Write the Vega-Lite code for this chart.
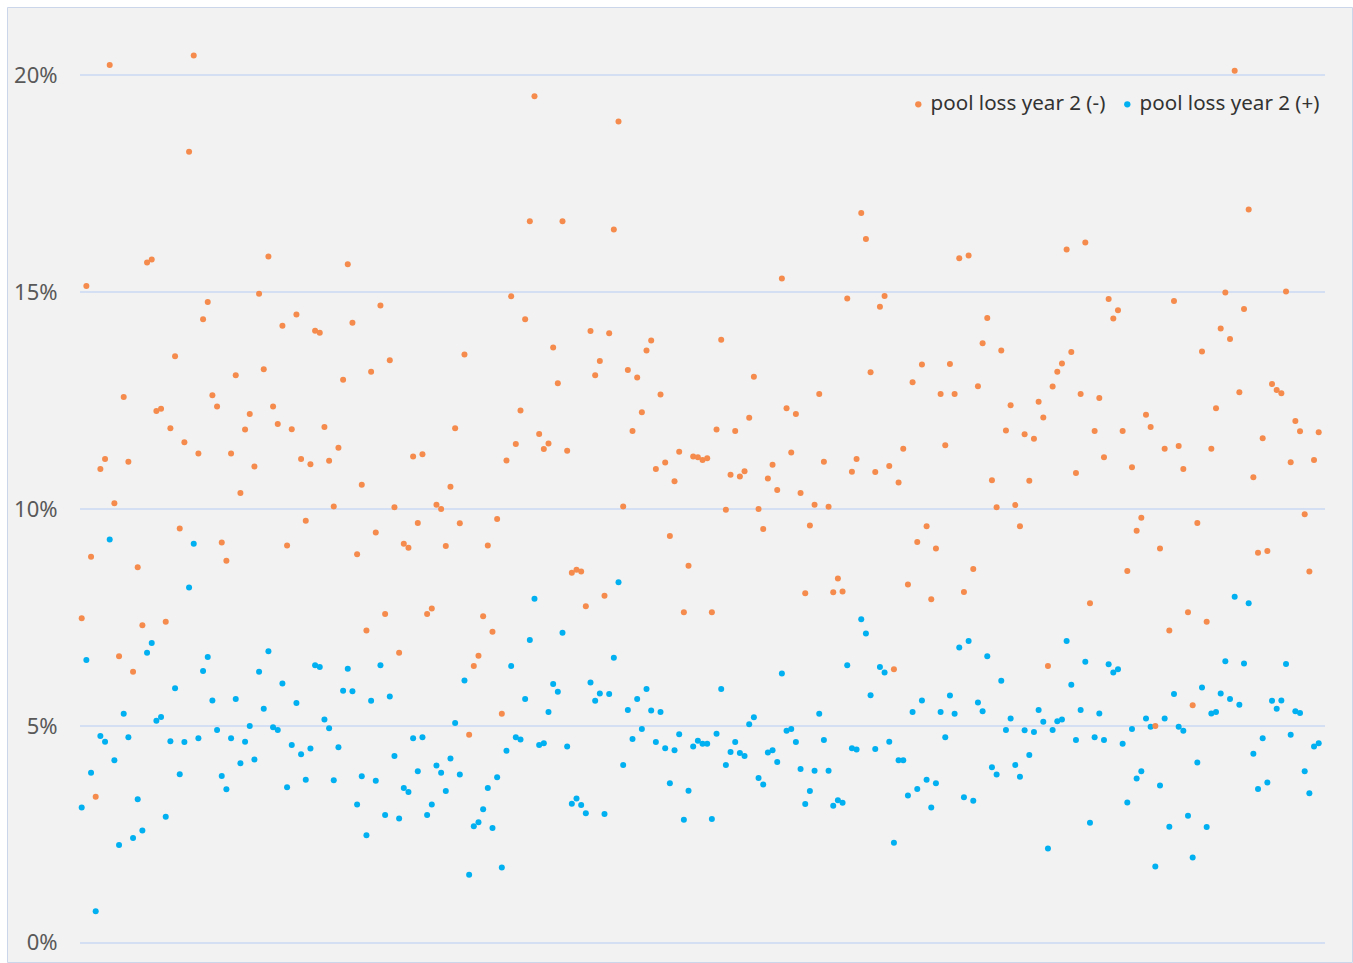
{
  "$schema": "https://vega.github.io/schema/vega-lite/v6.json",
  "width": 1345,
  "height": 955,
  "autosize": {"type": "none"},
  "padding": {"left": 7, "top": 7, "right": 1, "bottom": 1},
  "background": "#FFFFFF",
  "config": {"view": {"fill": "#F2F2F2", "stroke": "#CCD6EB", "strokeWidth": 1}, "font": "Noto Sans"},
  "datasets": {
    "grid": [{"g": 0}, {"g": 0.05}, {"g": 0.1}, {"g": 0.15}, {"g": 0.2}],
    "pts": [
{"i":1,"pool loss year 2 (-)":0.0748,"pool loss year 2 (+)":0.0312},
{"i":2,"pool loss year 2 (-)":0.1514,"pool loss year 2 (+)":0.0652},
{"i":3,"pool loss year 2 (-)":0.0890,"pool loss year 2 (+)":0.0392},
{"i":4,"pool loss year 2 (-)":0.0337,"pool loss year 2 (+)":0.0073},
{"i":5,"pool loss year 2 (-)":0.1092,"pool loss year 2 (+)":0.0477},
{"i":6,"pool loss year 2 (-)":0.1115,"pool loss year 2 (+)":0.0464},
{"i":7,"pool loss year 2 (-)":0.2023,"pool loss year 2 (+)":0.0930},
{"i":8,"pool loss year 2 (-)":0.1013,"pool loss year 2 (+)":0.0421},
{"i":9,"pool loss year 2 (-)":0.0661,"pool loss year 2 (+)":0.0226},
{"i":10,"pool loss year 2 (-)":0.1258,"pool loss year 2 (+)":0.0528},
{"i":11,"pool loss year 2 (-)":0.1109,"pool loss year 2 (+)":0.0474},
{"i":12,"pool loss year 2 (-)":0.0625,"pool loss year 2 (+)":0.0242},
{"i":13,"pool loss year 2 (-)":0.0866,"pool loss year 2 (+)":0.0331},
{"i":14,"pool loss year 2 (-)":0.0732,"pool loss year 2 (+)":0.0259},
{"i":15,"pool loss year 2 (-)":0.1568,"pool loss year 2 (+)":0.0669},
{"i":16,"pool loss year 2 (-)":0.1575,"pool loss year 2 (+)":0.0691},
{"i":17,"pool loss year 2 (-)":0.1226,"pool loss year 2 (+)":0.0512},
{"i":18,"pool loss year 2 (-)":0.1231,"pool loss year 2 (+)":0.0521},
{"i":19,"pool loss year 2 (-)":0.0740,"pool loss year 2 (+)":0.0291},
{"i":20,"pool loss year 2 (-)":0.1186,"pool loss year 2 (+)":0.0465},
{"i":21,"pool loss year 2 (-)":0.1352,"pool loss year 2 (+)":0.0587},
{"i":22,"pool loss year 2 (-)":0.0955,"pool loss year 2 (+)":0.0389},
{"i":23,"pool loss year 2 (-)":0.1154,"pool loss year 2 (+)":0.0463},
{"i":24,"pool loss year 2 (-)":0.1823,"pool loss year 2 (+)":0.0819},
{"i":25,"pool loss year 2 (-)":0.2045,"pool loss year 2 (+)":0.0920},
{"i":26,"pool loss year 2 (-)":0.1128,"pool loss year 2 (+)":0.0472},
{"i":27,"pool loss year 2 (-)":0.1437,"pool loss year 2 (+)":0.0627},
{"i":28,"pool loss year 2 (-)":0.1477,"pool loss year 2 (+)":0.0659},
{"i":29,"pool loss year 2 (-)":0.1262,"pool loss year 2 (+)":0.0559},
{"i":30,"pool loss year 2 (-)":0.1236,"pool loss year 2 (+)":0.0491},
{"i":31,"pool loss year 2 (-)":0.0923,"pool loss year 2 (+)":0.0385},
{"i":32,"pool loss year 2 (-)":0.0881,"pool loss year 2 (+)":0.0354},
{"i":33,"pool loss year 2 (-)":0.1128,"pool loss year 2 (+)":0.0472},
{"i":34,"pool loss year 2 (-)":0.1308,"pool loss year 2 (+)":0.0562},
{"i":35,"pool loss year 2 (-)":0.1037,"pool loss year 2 (+)":0.0414},
{"i":36,"pool loss year 2 (-)":0.1183,"pool loss year 2 (+)":0.0464},
{"i":37,"pool loss year 2 (-)":0.1219,"pool loss year 2 (+)":0.0500},
{"i":38,"pool loss year 2 (-)":0.1098,"pool loss year 2 (+)":0.0423},
{"i":39,"pool loss year 2 (-)":0.1496,"pool loss year 2 (+)":0.0625},
{"i":40,"pool loss year 2 (-)":0.1322,"pool loss year 2 (+)":0.0540},
{"i":41,"pool loss year 2 (-)":0.1582,"pool loss year 2 (+)":0.0672},
{"i":42,"pool loss year 2 (-)":0.1236,"pool loss year 2 (+)":0.0497},
{"i":43,"pool loss year 2 (-)":0.1196,"pool loss year 2 (+)":0.0491},
{"i":44,"pool loss year 2 (-)":0.1422,"pool loss year 2 (+)":0.0598},
{"i":45,"pool loss year 2 (-)":0.0916,"pool loss year 2 (+)":0.0359},
{"i":46,"pool loss year 2 (-)":0.1184,"pool loss year 2 (+)":0.0456},
{"i":47,"pool loss year 2 (-)":0.1448,"pool loss year 2 (+)":0.0553},
{"i":48,"pool loss year 2 (-)":0.1115,"pool loss year 2 (+)":0.0435},
{"i":49,"pool loss year 2 (-)":0.0973,"pool loss year 2 (+)":0.0376},
{"i":50,"pool loss year 2 (-)":0.1103,"pool loss year 2 (+)":0.0448},
{"i":51,"pool loss year 2 (-)":0.1411,"pool loss year 2 (+)":0.0640},
{"i":52,"pool loss year 2 (-)":0.1406,"pool loss year 2 (+)":0.0636},
{"i":53,"pool loss year 2 (-)":0.1189,"pool loss year 2 (+)":0.0515},
{"i":54,"pool loss year 2 (-)":0.1111,"pool loss year 2 (+)":0.0495},
{"i":55,"pool loss year 2 (-)":0.1006,"pool loss year 2 (+)":0.0375},
{"i":56,"pool loss year 2 (-)":0.1141,"pool loss year 2 (+)":0.0451},
{"i":57,"pool loss year 2 (-)":0.1298,"pool loss year 2 (+)":0.0581},
{"i":58,"pool loss year 2 (-)":0.1564,"pool loss year 2 (+)":0.0632},
{"i":59,"pool loss year 2 (-)":0.1429,"pool loss year 2 (+)":0.0580},
{"i":60,"pool loss year 2 (-)":0.0896,"pool loss year 2 (+)":0.0319},
{"i":61,"pool loss year 2 (-)":0.1056,"pool loss year 2 (+)":0.0384},
{"i":62,"pool loss year 2 (-)":0.0720,"pool loss year 2 (+)":0.0248},
{"i":63,"pool loss year 2 (-)":0.1316,"pool loss year 2 (+)":0.0558},
{"i":64,"pool loss year 2 (-)":0.0946,"pool loss year 2 (+)":0.0374},
{"i":65,"pool loss year 2 (-)":0.1469,"pool loss year 2 (+)":0.0640},
{"i":66,"pool loss year 2 (-)":0.0758,"pool loss year 2 (+)":0.0295},
{"i":67,"pool loss year 2 (-)":0.1343,"pool loss year 2 (+)":0.0568},
{"i":68,"pool loss year 2 (-)":0.1004,"pool loss year 2 (+)":0.0431},
{"i":69,"pool loss year 2 (-)":0.0669,"pool loss year 2 (+)":0.0287},
{"i":70,"pool loss year 2 (-)":0.0920,"pool loss year 2 (+)":0.0357},
{"i":71,"pool loss year 2 (-)":0.0911,"pool loss year 2 (+)":0.0348},
{"i":72,"pool loss year 2 (-)":0.1121,"pool loss year 2 (+)":0.0472},
{"i":73,"pool loss year 2 (-)":0.0968,"pool loss year 2 (+)":0.0396},
{"i":74,"pool loss year 2 (-)":0.1126,"pool loss year 2 (+)":0.0474},
{"i":75,"pool loss year 2 (-)":0.0758,"pool loss year 2 (+)":0.0295},
{"i":76,"pool loss year 2 (-)":0.0771,"pool loss year 2 (+)":0.0319},
{"i":77,"pool loss year 2 (-)":0.1010,"pool loss year 2 (+)":0.0409},
{"i":78,"pool loss year 2 (-)":0.1000,"pool loss year 2 (+)":0.0392},
{"i":79,"pool loss year 2 (-)":0.0915,"pool loss year 2 (+)":0.0350},
{"i":80,"pool loss year 2 (-)":0.1051,"pool loss year 2 (+)":0.0425},
{"i":81,"pool loss year 2 (-)":0.1186,"pool loss year 2 (+)":0.0507},
{"i":82,"pool loss year 2 (-)":0.0967,"pool loss year 2 (+)":0.0388},
{"i":83,"pool loss year 2 (-)":0.1356,"pool loss year 2 (+)":0.0605},
{"i":84,"pool loss year 2 (-)":0.0480,"pool loss year 2 (+)":0.0157},
{"i":85,"pool loss year 2 (-)":0.0638,"pool loss year 2 (+)":0.0269},
{"i":86,"pool loss year 2 (-)":0.0662,"pool loss year 2 (+)":0.0278},
{"i":87,"pool loss year 2 (-)":0.0753,"pool loss year 2 (+)":0.0308},
{"i":88,"pool loss year 2 (-)":0.0916,"pool loss year 2 (+)":0.0357},
{"i":89,"pool loss year 2 (-)":0.0717,"pool loss year 2 (+)":0.0265},
{"i":90,"pool loss year 2 (-)":0.0977,"pool loss year 2 (+)":0.0382},
{"i":91,"pool loss year 2 (-)":0.0528,"pool loss year 2 (+)":0.0174},
{"i":92,"pool loss year 2 (-)":0.1112,"pool loss year 2 (+)":0.0443},
{"i":93,"pool loss year 2 (-)":0.1490,"pool loss year 2 (+)":0.0638},
{"i":94,"pool loss year 2 (-)":0.1150,"pool loss year 2 (+)":0.0474},
{"i":95,"pool loss year 2 (-)":0.1227,"pool loss year 2 (+)":0.0469},
{"i":96,"pool loss year 2 (-)":0.1437,"pool loss year 2 (+)":0.0562},
{"i":97,"pool loss year 2 (-)":0.1663,"pool loss year 2 (+)":0.0698},
{"i":98,"pool loss year 2 (-)":0.1951,"pool loss year 2 (+)":0.0793},
{"i":99,"pool loss year 2 (-)":0.1173,"pool loss year 2 (+)":0.0456},
{"i":100,"pool loss year 2 (-)":0.1138,"pool loss year 2 (+)":0.0460},
{"i":101,"pool loss year 2 (-)":0.1151,"pool loss year 2 (+)":0.0532},
{"i":102,"pool loss year 2 (-)":0.1372,"pool loss year 2 (+)":0.0597},
{"i":103,"pool loss year 2 (-)":0.1290,"pool loss year 2 (+)":0.0579},
{"i":104,"pool loss year 2 (-)":0.1663,"pool loss year 2 (+)":0.0715},
{"i":105,"pool loss year 2 (-)":0.1134,"pool loss year 2 (+)":0.0453},
{"i":106,"pool loss year 2 (-)":0.0853,"pool loss year 2 (+)":0.0321},
{"i":107,"pool loss year 2 (-)":0.0860,"pool loss year 2 (+)":0.0333},
{"i":108,"pool loss year 2 (-)":0.0856,"pool loss year 2 (+)":0.0318},
{"i":109,"pool loss year 2 (-)":0.0776,"pool loss year 2 (+)":0.0299},
{"i":110,"pool loss year 2 (-)":0.1410,"pool loss year 2 (+)":0.0600},
{"i":111,"pool loss year 2 (-)":0.1308,"pool loss year 2 (+)":0.0558},
{"i":112,"pool loss year 2 (-)":0.1341,"pool loss year 2 (+)":0.0575},
{"i":113,"pool loss year 2 (-)":0.0800,"pool loss year 2 (+)":0.0297},
{"i":114,"pool loss year 2 (-)":0.1405,"pool loss year 2 (+)":0.0574},
{"i":115,"pool loss year 2 (-)":0.1644,"pool loss year 2 (+)":0.0657},
{"i":116,"pool loss year 2 (-)":0.1893,"pool loss year 2 (+)":0.0831},
{"i":117,"pool loss year 2 (-)":0.1006,"pool loss year 2 (+)":0.0410},
{"i":118,"pool loss year 2 (-)":0.1320,"pool loss year 2 (+)":0.0537},
{"i":119,"pool loss year 2 (-)":0.1180,"pool loss year 2 (+)":0.0470},
{"i":120,"pool loss year 2 (-)":0.1303,"pool loss year 2 (+)":0.0562},
{"i":121,"pool loss year 2 (-)":0.1223,"pool loss year 2 (+)":0.0493},
{"i":122,"pool loss year 2 (-)":0.1365,"pool loss year 2 (+)":0.0585},
{"i":123,"pool loss year 2 (-)":0.1388,"pool loss year 2 (+)":0.0536},
{"i":124,"pool loss year 2 (-)":0.1092,"pool loss year 2 (+)":0.0463},
{"i":125,"pool loss year 2 (-)":0.1264,"pool loss year 2 (+)":0.0532},
{"i":126,"pool loss year 2 (-)":0.1107,"pool loss year 2 (+)":0.0449},
{"i":127,"pool loss year 2 (-)":0.0938,"pool loss year 2 (+)":0.0368},
{"i":128,"pool loss year 2 (-)":0.1064,"pool loss year 2 (+)":0.0444},
{"i":129,"pool loss year 2 (-)":0.1132,"pool loss year 2 (+)":0.0481},
{"i":130,"pool loss year 2 (-)":0.0762,"pool loss year 2 (+)":0.0284},
{"i":131,"pool loss year 2 (-)":0.0869,"pool loss year 2 (+)":0.0351},
{"i":132,"pool loss year 2 (-)":0.1121,"pool loss year 2 (+)":0.0453},
{"i":133,"pool loss year 2 (-)":0.1119,"pool loss year 2 (+)":0.0466},
{"i":134,"pool loss year 2 (-)":0.1113,"pool loss year 2 (+)":0.0459},
{"i":135,"pool loss year 2 (-)":0.1117,"pool loss year 2 (+)":0.0459},
{"i":136,"pool loss year 2 (-)":0.0762,"pool loss year 2 (+)":0.0286},
{"i":137,"pool loss year 2 (-)":0.1183,"pool loss year 2 (+)":0.0482},
{"i":138,"pool loss year 2 (-)":0.1390,"pool loss year 2 (+)":0.0585},
{"i":139,"pool loss year 2 (-)":0.0998,"pool loss year 2 (+)":0.0410},
{"i":140,"pool loss year 2 (-)":0.1079,"pool loss year 2 (+)":0.0440},
{"i":141,"pool loss year 2 (-)":0.1180,"pool loss year 2 (+)":0.0463},
{"i":142,"pool loss year 2 (-)":0.1075,"pool loss year 2 (+)":0.0438},
{"i":143,"pool loss year 2 (-)":0.1087,"pool loss year 2 (+)":0.0431},
{"i":144,"pool loss year 2 (-)":0.1210,"pool loss year 2 (+)":0.0504},
{"i":145,"pool loss year 2 (-)":0.1305,"pool loss year 2 (+)":0.0520},
{"i":146,"pool loss year 2 (-)":0.1000,"pool loss year 2 (+)":0.0380},
{"i":147,"pool loss year 2 (-)":0.0954,"pool loss year 2 (+)":0.0365},
{"i":148,"pool loss year 2 (-)":0.1070,"pool loss year 2 (+)":0.0439},
{"i":149,"pool loss year 2 (-)":0.1102,"pool loss year 2 (+)":0.0444},
{"i":150,"pool loss year 2 (-)":0.1044,"pool loss year 2 (+)":0.0417},
{"i":151,"pool loss year 2 (-)":0.1531,"pool loss year 2 (+)":0.0621},
{"i":152,"pool loss year 2 (-)":0.1232,"pool loss year 2 (+)":0.0489},
{"i":153,"pool loss year 2 (-)":0.1130,"pool loss year 2 (+)":0.0493},
{"i":154,"pool loss year 2 (-)":0.1219,"pool loss year 2 (+)":0.0463},
{"i":155,"pool loss year 2 (-)":0.1037,"pool loss year 2 (+)":0.0401},
{"i":156,"pool loss year 2 (-)":0.0806,"pool loss year 2 (+)":0.0320},
{"i":157,"pool loss year 2 (-)":0.0962,"pool loss year 2 (+)":0.0350},
{"i":158,"pool loss year 2 (-)":0.1010,"pool loss year 2 (+)":0.0397},
{"i":159,"pool loss year 2 (-)":0.1265,"pool loss year 2 (+)":0.0528},
{"i":160,"pool loss year 2 (-)":0.1109,"pool loss year 2 (+)":0.0468},
{"i":161,"pool loss year 2 (-)":0.1005,"pool loss year 2 (+)":0.0397},
{"i":162,"pool loss year 2 (-)":0.0808,"pool loss year 2 (+)":0.0316},
{"i":163,"pool loss year 2 (-)":0.0840,"pool loss year 2 (+)":0.0329},
{"i":164,"pool loss year 2 (-)":0.0810,"pool loss year 2 (+)":0.0323},
{"i":165,"pool loss year 2 (-)":0.1485,"pool loss year 2 (+)":0.0640},
{"i":166,"pool loss year 2 (-)":0.1086,"pool loss year 2 (+)":0.0449},
{"i":167,"pool loss year 2 (-)":0.1115,"pool loss year 2 (+)":0.0446},
{"i":168,"pool loss year 2 (-)":0.1682,"pool loss year 2 (+)":0.0746},
{"i":169,"pool loss year 2 (-)":0.1622,"pool loss year 2 (+)":0.0713},
{"i":170,"pool loss year 2 (-)":0.1315,"pool loss year 2 (+)":0.0571},
{"i":171,"pool loss year 2 (-)":0.1085,"pool loss year 2 (+)":0.0447},
{"i":172,"pool loss year 2 (-)":0.1466,"pool loss year 2 (+)":0.0636},
{"i":173,"pool loss year 2 (-)":0.1491,"pool loss year 2 (+)":0.0623},
{"i":174,"pool loss year 2 (-)":0.1099,"pool loss year 2 (+)":0.0464},
{"i":175,"pool loss year 2 (-)":0.0631,"pool loss year 2 (+)":0.0231},
{"i":176,"pool loss year 2 (-)":0.1061,"pool loss year 2 (+)":0.0421},
{"i":177,"pool loss year 2 (-)":0.1139,"pool loss year 2 (+)":0.0421},
{"i":178,"pool loss year 2 (-)":0.0826,"pool loss year 2 (+)":0.0340},
{"i":179,"pool loss year 2 (-)":0.1292,"pool loss year 2 (+)":0.0532},
{"i":180,"pool loss year 2 (-)":0.0924,"pool loss year 2 (+)":0.0355},
{"i":181,"pool loss year 2 (-)":0.1333,"pool loss year 2 (+)":0.0559},
{"i":182,"pool loss year 2 (-)":0.0960,"pool loss year 2 (+)":0.0376},
{"i":183,"pool loss year 2 (-)":0.0792,"pool loss year 2 (+)":0.0312},
{"i":184,"pool loss year 2 (-)":0.0909,"pool loss year 2 (+)":0.0368},
{"i":185,"pool loss year 2 (-)":0.1265,"pool loss year 2 (+)":0.0532},
{"i":186,"pool loss year 2 (-)":0.1147,"pool loss year 2 (+)":0.0474},
{"i":187,"pool loss year 2 (-)":0.1334,"pool loss year 2 (+)":0.0570},
{"i":188,"pool loss year 2 (-)":0.1265,"pool loss year 2 (+)":0.0528},
{"i":189,"pool loss year 2 (-)":0.1578,"pool loss year 2 (+)":0.0681},
{"i":190,"pool loss year 2 (-)":0.0809,"pool loss year 2 (+)":0.0336},
{"i":191,"pool loss year 2 (-)":0.1584,"pool loss year 2 (+)":0.0696},
{"i":192,"pool loss year 2 (-)":0.0862,"pool loss year 2 (+)":0.0328},
{"i":193,"pool loss year 2 (-)":0.1283,"pool loss year 2 (+)":0.0554},
{"i":194,"pool loss year 2 (-)":0.1382,"pool loss year 2 (+)":0.0534},
{"i":195,"pool loss year 2 (-)":0.1440,"pool loss year 2 (+)":0.0661},
{"i":196,"pool loss year 2 (-)":0.1066,"pool loss year 2 (+)":0.0405},
{"i":197,"pool loss year 2 (-)":0.1004,"pool loss year 2 (+)":0.0388},
{"i":198,"pool loss year 2 (-)":0.1365,"pool loss year 2 (+)":0.0604},
{"i":199,"pool loss year 2 (-)":0.1181,"pool loss year 2 (+)":0.0491},
{"i":200,"pool loss year 2 (-)":0.1239,"pool loss year 2 (+)":0.0517},
{"i":201,"pool loss year 2 (-)":0.1009,"pool loss year 2 (+)":0.0410},
{"i":202,"pool loss year 2 (-)":0.0960,"pool loss year 2 (+)":0.0383},
{"i":203,"pool loss year 2 (-)":0.1172,"pool loss year 2 (+)":0.0490},
{"i":204,"pool loss year 2 (-)":0.1065,"pool loss year 2 (+)":0.0433},
{"i":205,"pool loss year 2 (-)":0.1162,"pool loss year 2 (+)":0.0486},
{"i":206,"pool loss year 2 (-)":0.1247,"pool loss year 2 (+)":0.0537},
{"i":207,"pool loss year 2 (-)":0.1211,"pool loss year 2 (+)":0.0510},
{"i":208,"pool loss year 2 (-)":0.0638,"pool loss year 2 (+)":0.0218},
{"i":209,"pool loss year 2 (-)":0.1282,"pool loss year 2 (+)":0.0491},
{"i":210,"pool loss year 2 (-)":0.1316,"pool loss year 2 (+)":0.0511},
{"i":211,"pool loss year 2 (-)":0.1335,"pool loss year 2 (+)":0.0515},
{"i":212,"pool loss year 2 (-)":0.1598,"pool loss year 2 (+)":0.0696},
{"i":213,"pool loss year 2 (-)":0.1362,"pool loss year 2 (+)":0.0595},
{"i":214,"pool loss year 2 (-)":0.1083,"pool loss year 2 (+)":0.0468},
{"i":215,"pool loss year 2 (-)":0.1265,"pool loss year 2 (+)":0.0537},
{"i":216,"pool loss year 2 (-)":0.1614,"pool loss year 2 (+)":0.0648},
{"i":217,"pool loss year 2 (-)":0.0783,"pool loss year 2 (+)":0.0277},
{"i":218,"pool loss year 2 (-)":0.1180,"pool loss year 2 (+)":0.0474},
{"i":219,"pool loss year 2 (-)":0.1256,"pool loss year 2 (+)":0.0529},
{"i":220,"pool loss year 2 (-)":0.1119,"pool loss year 2 (+)":0.0468},
{"i":221,"pool loss year 2 (-)":0.1484,"pool loss year 2 (+)":0.0642},
{"i":222,"pool loss year 2 (-)":0.1439,"pool loss year 2 (+)":0.0623},
{"i":223,"pool loss year 2 (-)":0.1458,"pool loss year 2 (+)":0.0631},
{"i":224,"pool loss year 2 (-)":0.1180,"pool loss year 2 (+)":0.0459},
{"i":225,"pool loss year 2 (-)":0.0857,"pool loss year 2 (+)":0.0324},
{"i":226,"pool loss year 2 (-)":0.1096,"pool loss year 2 (+)":0.0493},
{"i":227,"pool loss year 2 (-)":0.0950,"pool loss year 2 (+)":0.0379},
{"i":228,"pool loss year 2 (-)":0.0980,"pool loss year 2 (+)":0.0396},
{"i":229,"pool loss year 2 (-)":0.1217,"pool loss year 2 (+)":0.0517},
{"i":230,"pool loss year 2 (-)":0.1189,"pool loss year 2 (+)":0.0498},
{"i":231,"pool loss year 2 (-)":0.0500,"pool loss year 2 (+)":0.0176},
{"i":232,"pool loss year 2 (-)":0.0909,"pool loss year 2 (+)":0.0363},
{"i":233,"pool loss year 2 (-)":0.1139,"pool loss year 2 (+)":0.0517},
{"i":234,"pool loss year 2 (-)":0.0720,"pool loss year 2 (+)":0.0268},
{"i":235,"pool loss year 2 (-)":0.1479,"pool loss year 2 (+)":0.0574},
{"i":236,"pool loss year 2 (-)":0.1145,"pool loss year 2 (+)":0.0498},
{"i":237,"pool loss year 2 (-)":0.1092,"pool loss year 2 (+)":0.0489},
{"i":238,"pool loss year 2 (-)":0.0762,"pool loss year 2 (+)":0.0293},
{"i":239,"pool loss year 2 (-)":0.0548,"pool loss year 2 (+)":0.0197},
{"i":240,"pool loss year 2 (-)":0.0968,"pool loss year 2 (+)":0.0416},
{"i":241,"pool loss year 2 (-)":0.1363,"pool loss year 2 (+)":0.0589},
{"i":242,"pool loss year 2 (-)":0.0740,"pool loss year 2 (+)":0.0267},
{"i":243,"pool loss year 2 (-)":0.1139,"pool loss year 2 (+)":0.0529},
{"i":244,"pool loss year 2 (-)":0.1232,"pool loss year 2 (+)":0.0532},
{"i":245,"pool loss year 2 (-)":0.1416,"pool loss year 2 (+)":0.0575},
{"i":246,"pool loss year 2 (-)":0.1499,"pool loss year 2 (+)":0.0649},
{"i":247,"pool loss year 2 (-)":0.1392,"pool loss year 2 (+)":0.0562},
{"i":248,"pool loss year 2 (-)":0.2010,"pool loss year 2 (+)":0.0798},
{"i":249,"pool loss year 2 (-)":0.1269,"pool loss year 2 (+)":0.0549},
{"i":250,"pool loss year 2 (-)":0.1461,"pool loss year 2 (+)":0.0644},
{"i":251,"pool loss year 2 (-)":0.1690,"pool loss year 2 (+)":0.0783},
{"i":252,"pool loss year 2 (-)":0.1073,"pool loss year 2 (+)":0.0436},
{"i":253,"pool loss year 2 (-)":0.0899,"pool loss year 2 (+)":0.0355},
{"i":254,"pool loss year 2 (-)":0.1163,"pool loss year 2 (+)":0.0472},
{"i":255,"pool loss year 2 (-)":0.0903,"pool loss year 2 (+)":0.0370},
{"i":256,"pool loss year 2 (-)":0.1288,"pool loss year 2 (+)":0.0558},
{"i":257,"pool loss year 2 (-)":0.1274,"pool loss year 2 (+)":0.0540},
{"i":258,"pool loss year 2 (-)":0.1267,"pool loss year 2 (+)":0.0559},
{"i":259,"pool loss year 2 (-)":0.1501,"pool loss year 2 (+)":0.0643},
{"i":260,"pool loss year 2 (-)":0.1108,"pool loss year 2 (+)":0.0480},
{"i":261,"pool loss year 2 (-)":0.1203,"pool loss year 2 (+)":0.0534},
{"i":262,"pool loss year 2 (-)":0.1179,"pool loss year 2 (+)":0.0530},
{"i":263,"pool loss year 2 (-)":0.0988,"pool loss year 2 (+)":0.0396},
{"i":264,"pool loss year 2 (-)":0.0856,"pool loss year 2 (+)":0.0345},
{"i":265,"pool loss year 2 (-)":0.1113,"pool loss year 2 (+)":0.0453},
{"i":266,"pool loss year 2 (-)":0.1177,"pool loss year 2 (+)":0.0460}
    ]
  },
  "layer": [
    {
      "data": {"name": "grid"},
      "mark": {"type": "rule", "color": "#CAD8F4", "strokeWidth": 1.5},
      "encoding": {
        "y": {"field": "g", "type": "quantitative",
              "scale": {"domain": [-0.004378, 0.21567], "nice": false, "zero": false},
              "axis": {"values": [0, 0.05, 0.1, 0.15, 0.2], "format": "%", "title": null, "domain": false, "ticks": false, "grid": false, "labelFontSize": 22, "labelColor": "#595959", "labelPadding": 0, "offset": -50, "labelFont": "Noto Sans"}},
        "x": {"datum": 0.636, "type": "quantitative", "scale": {"domain": [-15.003, 273.134], "nice": false, "zero": false}, "axis": null},
        "x2": {"datum": 267.35}
      }
    },
    {
      "data": {"name": "pts"},
      "transform": [{"fold": ["pool loss year 2 (-)", "pool loss year 2 (+)"], "as": ["series", "value"]}],
      "mark": {"type": "circle", "size": 36, "opacity": 1},
      "encoding": {
        "x": {"field": "i", "type": "quantitative", "axis": null},
        "y": {"field": "value", "type": "quantitative",
              "axis": {"values": [0, 0.05, 0.1, 0.15, 0.2], "format": "%", "title": null, "domain": false, "ticks": false, "grid": false, "labelFontSize": 22, "labelColor": "#595959", "labelPadding": 0, "offset": -50, "labelFont": "Noto Sans"}},
        "color": {"field": "series", "type": "nominal",
                  "scale": {"domain": ["pool loss year 2 (-)", "pool loss year 2 (+)"], "range": ["#F58B4C", "#00B0F0"]},
                  "legend": {"orient": "none", "legendX": 901, "legendY": 87, "direction": "horizontal", "title": null, "symbolType": "circle", "symbolSize": 40, "symbolStrokeWidth": 0, "labelFontSize": 20.6, "labelColor": "#333333", "labelFont": "Noto Sans", "labelOffset": 2, "labelLimit": 0, "columnPadding": 11, "padding": 0}}
      }
    }
  ]
}
